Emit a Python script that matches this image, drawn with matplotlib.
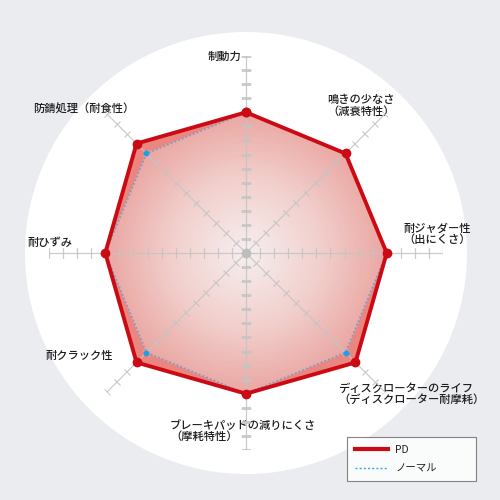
import numpy as np
import matplotlib
matplotlib.use("Agg")
import matplotlib.pyplot as plt
from matplotlib.patches import Circle
from matplotlib.markers import MarkerStyle
from matplotlib.transforms import Affine2D
from matplotlib.lines import Line2D
from matplotlib.colors import LinearSegmentedColormap

plt.rcParams['font.family'] = ['Noto Sans CJK JP', 'DejaVu Sans']

# ---- data ----
categories = ['制動力', '鳴きの少なさ\n（減衰特性）', '耐ジャダー性\n（出にくさ）',
              'ディスクローターのライフ\n（ディスクローター耐摩耗）',
              'ブレーキパッドの減りにくさ\n（摩耗特性）', '耐クラック性', '耐ひずみ',
              '防錆処理（耐食性）']
pd_values = [10, 10, 10, 11, 10, 11, 10, 11]
normal_values = [10, 10, 10, 10, 10, 10, 10, 10]
series_names = ['PD', 'ノーマル']
r_max = 14

# label placement (pixel coords) and alignment
label_pos = [(225, 57, 'center'), (327, 106, 'left'), (403, 234, 'left'),
             (338, 394, 'left'), (170, 431, 'left'), (45, 356, 'left'),
             (27, 243, 'left'), (33, 109, 'left')]

W = H = 500
fig = plt.figure(figsize=(5, 5), dpi=100, facecolor='#eaecf0')
bg = fig.add_axes([0, 0, 1, 1])
bg.set_xlim(0, W)
bg.set_ylim(H, 0)
bg.axis('off')
CX, CY, R = 246, 253, 197
bg.add_patch(Circle((CX, CY), 221, fc='white', ec='none', zorder=0))

ax = fig.add_axes([(CX - R) / W, (H - CY - R) / H, 2 * R / W, 2 * R / H], projection='polar')
ax.set_theta_zero_location('N')
ax.set_theta_direction(-1)
ax.set_ylim(0, r_max)
ax.patch.set_alpha(0)
ax.grid(False)
ax.set_xticks([])
ax.set_yticks([])
ax.spines['polar'].set_visible(False)

n = len(categories)
theta = np.linspace(0, 2 * np.pi, n, endpoint=False)
th_c = np.append(theta, theta[0])
pd_c = np.append(pd_values, pd_values[0])
nm_c = np.append(normal_values, normal_values[0])

# strip between normal and PD
ax.fill(th_c, pd_c, color='#ea8580', zorder=1, lw=0)
# gradient inside normal
clip = ax.fill(th_c, nm_c, facecolor='none', edgecolor='none', zorder=1)[0]
T, RR = np.meshgrid(np.linspace(0, 2 * np.pi, 361), np.linspace(0, r_max, 141))
C = RR[:-1, :-1]
cmap = LinearSegmentedColormap.from_list('g', ['#f6eeee', '#f1cfcc', '#e9a19c'])
mesh = ax.pcolormesh(T, RR, C, cmap=cmap, vmin=0, vmax=10.5, shading='flat', zorder=1.2)
mesh.set_clip_path(clip)

# axes and ticks
for t in theta:
    deg = np.degrees(t)
    ax.plot([t, t], [0, r_max], color='#c4c4c4', lw=0.9, alpha=0.85, zorder=2)
    ms = MarkerStyle('_', transform=Affine2D().rotate_deg(-deg))
    ax.plot([t] * r_max, np.arange(1, r_max + 1), ls='none', marker=ms, ms=7,
            mec='#c4c4c4', mew=0.9, alpha=0.85, zorder=2)
ax.plot([0], [0], 'o', color='#bdbdbd', ms=6, zorder=3)

ax.plot(th_c, nm_c, color='#7f9dbf', lw=1.2, ls=(0, (1.2, 1.2)), marker='o', ms=4.2,
        mfc='#1e9ee6', mec='none', zorder=4, clip_on=False)
ax.plot(th_c, pd_c, color='#cc0a14', lw=2.8, marker='o', ms=6, zorder=5, clip_on=False)

for lab, (x, y, ha) in zip(categories, label_pos):
    bg.text(x, y, lab, ha=ha, va='center', fontsize=8.1, color='#1e1e1e',
            linespacing=1.1, fontweight='medium')

handles = [Line2D([], [], color='#cc0a14', lw=3),
           Line2D([], [], color='#3aa8e0', lw=1, ls=(0, (1.5, 1.5)))]
leg = fig.legend(handles, series_names, loc='upper left',
                 bbox_to_anchor=(347 / W, 1 - 483 / H, 129 / W, 46 / H), mode='expand',
                 frameon=True, fancybox=False,
                 edgecolor='#666666', fontsize=7.5, handlelength=3.2, borderpad=0.75,
                 labelspacing=0.85, handletextpad=0.7, borderaxespad=0)
leg.get_frame().set_linewidth(0.8)
for txt in leg.get_texts():
    txt.set_color('#222222')

fig.savefig('out.png', dpi=100, facecolor=fig.get_facecolor())
